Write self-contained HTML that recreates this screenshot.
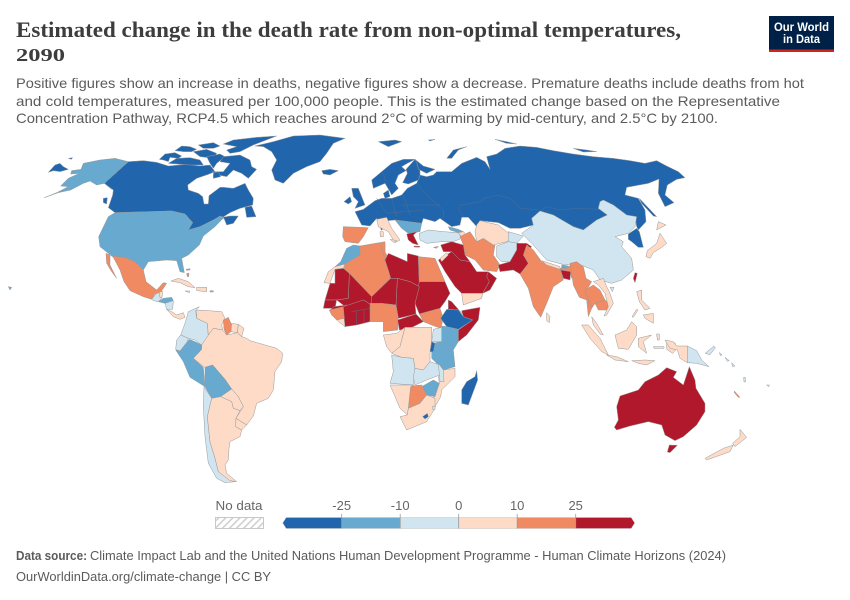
<!DOCTYPE html>
<html lang="en">
<head>
<meta charset="utf-8">
<title>Estimated change in the death rate from non-optimal temperatures, 2090</title>
<style>
html,body{margin:0;padding:0;background:#fff;width:850px;height:600px;overflow:hidden}
svg{display:block;font-family:"Liberation Sans",sans-serif}
#map path{stroke:#999;stroke-width:.5;vector-effect:non-scaling-stroke;stroke-linejoin:round}
#map path.border{fill:none;stroke:#4f6f94;stroke-width:.5}
</style>
</head>
<body>
<svg id="chart" width="850" height="600" viewBox="0 0 850 600" xmlns="http://www.w3.org/2000/svg">
<defs>
<pattern id="hatch" width="5" height="5" patternUnits="userSpaceOnUse" patternTransform="rotate(45)">
<rect width="5" height="5" fill="#fff"/><rect width="1.6" height="5" fill="#d0d0d0"/>
</pattern>
</defs>
<text x="16" y="37" font-family="Liberation Serif" font-weight="700" font-size="22.5" fill="#3d3d3d" textLength="665" lengthAdjust="spacingAndGlyphs">Estimated change in the death rate from non-optimal temperatures,</text>
<text x="16" y="61" font-family="Liberation Serif" font-weight="700" font-size="18" fill="#3d3d3d" textLength="49" lengthAdjust="spacingAndGlyphs">2090</text>
<text x="16" y="88" font-size="14" fill="#5b5b5b" textLength="788" lengthAdjust="spacingAndGlyphs">Positive figures show an increase in deaths, negative figures show a decrease. Premature deaths include deaths from hot</text>
<text x="16" y="106" font-size="14" fill="#5b5b5b" textLength="764" lengthAdjust="spacingAndGlyphs">and cold temperatures, measured per 100,000 people. This is the estimated change based on the Representative</text>
<text x="16" y="123" font-size="14" fill="#5b5b5b" textLength="702" lengthAdjust="spacingAndGlyphs">Concentration Pathway, RCP4.5 which reaches around 2°C of warming by mid-century, and 2.5°C by 2100.</text>

<g>
<rect x="769" y="16" width="65" height="36" fill="#002147"/>
<rect x="769" y="49.5" width="65" height="2.5" fill="#ce261e"/>
<text x="801.5" y="31" text-anchor="middle" font-size="11.5" font-weight="700" fill="#fff" textLength="55" lengthAdjust="spacingAndGlyphs">Our World</text>
<text x="801.5" y="43" text-anchor="middle" font-size="11.5" font-weight="700" fill="#fff" textLength="37" lengthAdjust="spacingAndGlyphs">in Data</text>
</g>

<g id="map">
<g transform="translate(0,130) scale(.33333)">
<path data-country="Greenland" d="M765,48 L820,35 L880,18 L960,15 L1035,25 L1000,40 L980,70 L960,95 L920,110 L880,130 L850,160 L825,150 L815,120 L830,90 L815,65 L790,50 Z"/>
<path data-country="Canada" d="M385,95 L430,92 L470,97 L505,108 L560,103 L600,108 L630,105 L645,125 L625,133 L590,145 L563,165 L565,180 L595,190 L608,200 L612,222 L625,222 L627,197 L660,172 L672,172 L700,175 L735,160 L745,180 L760,205 L758,225 L720,235 L690,248 L668,262 L690,258 L715,258 L700,280 L680,285 L672,265 L640,270 L600,290 L565,300 L578,278 L555,252 L515,243 L345,248 L325,233 L338,195 L340,180 L313,160 Z"/>
<path data-country="Canada" d="M735,232 L755,228 L768,260 L740,262 Z"/>
<path data-country="Canada" d="M478,88 L495,72 L525,68 L545,78 L535,85 L510,82 L505,95 L490,90 Z"/>
<path data-country="Canada" d="M525,62 L545,48 L570,50 L590,58 L575,65 L550,65 Z"/>
<path data-country="Canada" d="M505,100 L530,85 L570,83 L600,90 L610,105 L570,105 Z"/>
<path data-country="Canada" d="M580,65 L620,58 L650,70 L640,85 L600,80 Z"/>
<path data-country="Canada" d="M595,45 L640,38 L660,48 L640,55 L610,55 Z"/>
<path data-country="Canada" d="M620,80 L660,72 L675,80 L650,100 L640,115 L630,100 Z"/>
<path data-country="Canada" d="M635,125 L670,125 L690,100 L660,95 L670,80 L720,75 L750,90 L755,110 L770,118 L745,145 L725,130 L700,120 L680,140 L655,135 Z"/>
<path data-country="Canada" d="M640,130 L655,125 L662,140 L640,145 Z"/>
<path data-country="Canada" d="M670,42 L700,30 L770,22 L830,18 L760,45 L720,65 L690,70 L680,60 L710,50 Z"/>
<path data-country="Canada" d="M310,205 L322,203 L320,222 L310,218 Z"/>
<path data-country="Russia" d="M145,127 L165,105 L180,100 L190,110 L205,118 L180,125 L160,122 Z"/>
<path data-country="Russia" d="M205,85 L218,83 L214,88 Z"/>
<path data-country="United States" d="M385,95 L345,85 L300,90 L250,100 L243,118 L215,122 L212,132 L238,130 L205,145 L182,168 L205,170 L170,188 L133,203 L175,188 L212,180 L250,160 L270,153 L290,165 L313,160 L335,178 L313,160 Z"/>
<path data-country="United States" d="M345,248 L515,243 L555,252 L578,278 L565,300 L600,290 L640,270 L660,258 L672,262 L645,290 L610,318 L598,345 L565,375 L545,385 L553,428 L540,425 L530,392 L500,390 L445,395 L430,420 L405,395 L375,382 L335,378 L300,350 L296,320 L325,260 Z"/>
<path data-country="United States" d="M25,470 L35,472 L30,480 Z"/>
<path data-country="Mexico" d="M335,378 L375,382 L405,395 L430,420 L438,455 L470,480 L490,458 L500,460 L480,490 L465,492 L455,508 L430,500 L390,482 L372,455 L360,420 L340,382 Z"/>
<path data-country="Mexico" d="M318,370 L330,375 L330,405 L350,445 L335,425 L320,400 Z"/>
<path data-country="Guatemala" d="M455,508 L470,490 L480,488 L485,505 L475,515 L460,512 Z"/>
<path data-country="Belize" d="M478,485 L488,485 L486,503 L480,503 Z"/>
<path data-country="Honduras" d="M475,515 L490,505 L515,502 L520,512 L495,520 Z"/>
<path data-country="Nicaragua" d="M495,520 L520,512 L518,538 L500,538 Z"/>
<path data-country="Panama" d="M500,538 L515,545 L530,555 L550,548 L555,562 L540,568 L520,560 Z"/>
<path data-country="Cuba" d="M513,453 L535,445 L565,455 L585,473 L565,470 L540,458 Z"/>
<path data-country="Dominican Republic" d="M590,472 L620,472 L620,485 L590,482 Z"/>
<path data-country="Jamaica" d="M555,483 L570,483 L568,488 Z"/>
<path data-country="Puerto Rico" d="M630,482 L640,482 L640,486 L630,486 Z"/>
<path data-country="Bahamas" d="M558,418 L570,416 L570,420 L560,421 Z"/>
<path data-country="Bahamas" d="M560,430 L567,430 L566,440 L562,440 Z"/>
</g>

<g transform="translate(130,290) scale(.33333)">
<path data-country="Colombia" d="M208,50 L197,62 L200,85 L232,100 L235,140 L215,165 L195,150 L175,145 L152,135 L165,100 L175,65 Z"/>
<path data-country="Ecuador" d="M152,135 L175,145 L172,155 L150,183 L137,178 L140,150 Z"/>
<path data-country="Venezuela" d="M200,60 L235,62 L275,65 L285,85 L275,105 L278,120 L250,115 L235,135 L232,100 L200,85 Z"/>
<path data-country="Brazil" d="M235,135 L250,115 L278,120 L290,135 L322,128 L335,140 L350,145 L360,152 L405,165 L440,175 L458,190 L455,215 L435,245 L430,300 L415,325 L380,340 L370,378 L350,405 L318,385 L340,350 L325,320 L305,297 L285,268 L248,225 L225,232 L215,225 L190,205 L215,178 L215,165 Z"/>
<path data-country="Peru" d="M178,148 L195,155 L215,165 L215,178 L190,205 L220,232 L225,290 L180,262 L160,215 L137,180 L150,183 Z"/>
<path data-country="Bolivia" d="M225,232 L248,225 L285,268 L305,297 L272,320 L245,325 L225,290 Z"/>
<path data-country="Guyana" d="M280,90 L295,82 L305,105 L303,125 L290,135 L282,118 Z"/>
<path data-country="Suriname" d="M305,100 L325,103 L322,128 L303,125 Z"/>
<path data-country="French Guiana" d="M325,103 L342,115 L335,140 L322,128 Z"/>
<path data-country="Paraguay" d="M272,320 L305,297 L325,320 L340,350 L330,362 L310,355 L305,335 Z"/>
<path data-country="Chile" d="M222,290 L245,325 L232,380 L240,455 L255,505 L265,545 L300,560 L315,575 L285,578 L260,565 L235,520 L225,440 L220,350 Z"/>
<path data-country="Argentina" d="M245,325 L272,320 L305,335 L310,355 L330,362 L318,385 L317,410 L335,420 L330,440 L300,455 L297,475 L295,510 L285,525 L290,550 L320,575 L300,572 L265,545 L255,505 L240,455 L232,380 Z"/>
<path data-country="Uruguay" d="M318,385 L350,405 L335,420 L317,410 Z"/>
</g>

<g transform="translate(320,130) scale(.33333)">
<path data-country="Russia" d="M105,245 L130,238 L165,212 L185,205 L215,205 L245,195 L262,175 L290,160 L300,135 L320,140 L340,135 L350,125 L380,125 L395,125 L425,100 L470,82 L495,95 L510,118 L500,80 L530,72 L555,55 L600,48 L650,52 L700,62 L760,72 L820,80 L880,85 L930,92 L975,100 L1010,92 L1040,108 L1075,125 L1095,143 L1070,148 L1042,165 L1035,195 L1062,218 L1035,230 L1015,190 L1017,147 L985,160 L920,172 L915,195 L955,205 L975,240 L978,275 L955,300 L950,290 L945,260 L920,255 L880,225 L840,215 L835,235 L862,255 L830,270 L790,300 L760,290 L700,255 L660,243 L635,265 L640,285 L600,295 L570,295 L535,278 L480,272 L470,290 L445,262 L425,262 L420,285 L395,290 L360,265 L345,275 L310,265 L305,280 L225,270 L175,275 L170,265 L150,288 L125,285 Z"/>
<path data-country="Norway" d="M160,175 L155,150 L185,125 L215,100 L250,88 L285,88 L262,100 L245,110 L258,122 L235,135 L225,160 L235,175 L215,195 L208,182 L195,160 Z"/>
<path data-country="Norway" d="M258,118 L285,88 L300,100 L300,135 L295,150 L265,162 L248,158 L262,130 Z"/>
<path data-country="Russia" d="M285,88 L310,108 L345,118 L320,130 L296,118 L290,95 Z"/>
<path data-country="Norway" d="M190,190 L205,180 L210,200 L195,205 Z"/>
<path data-country="United Kingdom" d="M95,175 L115,175 L125,200 L135,225 L105,235 L115,215 L100,200 Z"/>
<path data-country="Ireland" d="M72,215 L90,200 L95,215 L85,222 Z"/>
<path data-country="Iceland" d="M5,122 L30,118 L55,122 L30,135 L10,132 Z"/>
<path data-country="Norway" d="M175,35 L225,30 L245,35 L205,50 Z"/>
<path data-country="Norway" d="M325,30 L345,28 L330,33 Z"/>
<path data-country="Russia" d="M380,85 L400,60 L440,50 L415,60 L395,85 Z"/>
<path data-country="Russia" d="M525,28 L560,35 L590,42 L560,40 Z"/>
<path data-country="Russia" d="M760,55 L800,60 L830,65 L790,66 Z"/>
<path data-country="Russia" d="M958,205 L1010,260 L1000,258 L965,220 Z"/>
<path data-country="France" d="M182,288 L188,288 L187,300 L183,300 Z"/>
<path class="border" d="M415,235 L420,225 L485,215 L490,205 L535,195 L570,205 L600,235 L655,240"/>
<path class="border" d="M660,243 L680,230 L720,240 L770,235 L835,238"/>
<path class="border" d="M415,235 L430,260"/>
<path class="border" d="M290,160 L325,200 L370,240 L370,265"/>
<path class="border" d="M285,90 L300,135"/>
<path class="border" d="M190,130 L200,165"/>
<path class="border" d="M170,205 L200,250"/>
<path class="border" d="M215,205 L230,260"/>
<path class="border" d="M250,195 L270,255"/>
<path class="border" d="M200,250 L310,240 M245,225 L360,225"/>
<path data-country="Spain" d="M70,290 L145,293 L130,320 L115,340 L75,335 L68,320 Z"/>
<path data-country="Italy" d="M170,268 L200,262 L215,295 L240,330 L225,338 L205,305 L175,290 Z"/>
<path data-country="Italy" d="M210,328 L230,332 L222,338 Z"/>
<path data-country="Italy" d="M180,305 L190,305 L190,320 L181,320 Z"/>
<path data-country="Serbia" d="M225,270 L305,280 L300,305 L265,310 L245,295 Z"/>
<path data-country="Greece" d="M260,312 L292,305 L280,315 L295,345 L278,340 L265,330 Z"/>
<path data-country="Greece" d="M282,348 L300,349 L298,352 L282,351 Z"/>
<path data-country="Turkey" d="M298,310 L325,300 L370,305 L415,308 L425,325 L400,335 L365,335 L320,340 L300,330 Z"/>
<path data-country="Georgia" d="M385,290 L415,298 L430,305 L415,308 L390,300 Z"/>
<path data-country="Azerbaijan" d="M415,308 L430,305 L447,320 L430,325 L425,322 Z"/>
<path data-country="Cyprus" d="M340,352 L355,349 L350,355 Z"/>
<path data-country="China" d="M850,210 L880,225 L920,255 L950,260 L945,290 L925,310 L885,320 L910,335 L905,350 L935,385 L940,420 L905,450 L875,460 L840,450 L820,420 L770,400 L735,405 L680,390 L640,345 L610,315 L605,310 L640,285 L635,265 L660,243 L700,255 L760,290 L790,300 L830,270 L862,255 L835,235 L840,215 Z"/>
<path data-country="Russia" d="M925,312 L950,295 L958,305 L970,352 L955,352 L935,335 L925,328 Z"/>
<path data-country="Iran" d="M420,320 L450,305 L470,335 L490,325 L525,345 L520,375 L540,405 L530,425 L490,420 L465,390 L435,375 L430,345 Z"/>
<path data-country="Uzbekistan" d="M470,285 L480,272 L535,285 L560,305 L585,318 L560,335 L520,345 L490,325 L470,335 L465,305 Z"/>
<path data-country="Tajikistan" d="M565,305 L610,318 L590,340 L565,335 Z"/>
<path data-country="Afghanistan" d="M530,348 L565,335 L595,340 L590,360 L570,395 L545,395 L530,380 Z"/>
<path data-country="Pakistan" d="M590,340 L620,340 L635,350 L610,375 L625,400 L605,435 L580,420 L540,425 L535,405 L570,395 L590,360 Z"/>
<path data-country="India" d="M620,345 L640,360 L665,395 L720,415 L730,450 L700,470 L680,520 L662,562 L640,530 L625,475 L600,432 L625,400 L610,375 Z"/>
<path data-country="India" d="M720,415 L745,410 L760,400 L775,420 L755,445 L750,425 L722,420 Z"/>
<path data-country="Nepal" d="M665,392 L720,410 L720,418 L680,405 Z"/>
<path data-country="Bhutan" d="M725,405 L745,408 L740,415 L725,415 Z"/>
<path data-country="Bangladesh" d="M722,420 L752,425 L750,450 L730,445 Z"/>
<path data-country="Sri Lanka" d="M680,548 L690,560 L688,578 L680,572 Z"/>
<path data-country="Iraq" d="M362,345 L395,335 L430,345 L435,375 L450,395 L420,390 L395,365 L370,365 Z"/>
<path data-country="Saudi Arabia" d="M355,390 L395,365 L420,390 L450,395 L470,425 L505,425 L508,455 L488,490 L425,490 L405,470 L375,425 Z"/>
<path data-country="Oman" d="M505,425 L530,445 L510,480 L488,490 L508,455 L500,440 Z"/>
<path data-country="Yemen" d="M425,490 L488,490 L485,505 L430,525 Z"/>
<path data-country="Jordan" d="M360,385 L380,368 L385,375 L365,395 Z"/>
</g>

<g transform="translate(320,240) scale(.33333)">
<path data-country="Morocco" d="M120,18 L100,15 L80,25 L62,65 L45,80 L75,72 L120,45 Z"/>
<path data-country="Western Sahara" d="M45,80 L75,72 L70,85 L45,88 L30,130 L12,128 L25,95 Z"/>
<path data-country="Algeria" d="M120,18 L178,8 L195,10 L195,60 L208,100 L212,115 L155,170 L90,105 L72,90 L75,72 L120,45 Z"/>
<path data-country="Tunisia" d="M180,8 L195,5 L195,35 L205,55 L195,60 Z"/>
<path data-country="Libya" d="M195,60 L205,40 L240,55 L262,65 L262,40 L295,48 L298,140 L270,125 L232,115 L212,115 L208,100 Z"/>
<path data-country="Egypt" d="M295,50 L345,55 L375,125 L298,125 Z"/>
<path data-country="Sudan" d="M298,125 L375,125 L390,160 L375,185 L360,205 L298,222 L285,190 Z"/>
<path data-country="South Sudan" d="M298,222 L360,205 L370,235 L362,265 L335,255 L310,245 Z"/>
<path data-country="Chad" d="M232,115 L270,125 L298,140 L285,190 L288,222 L235,235 L228,195 Z"/>
<path data-country="Niger" d="M155,170 L212,115 L232,115 L228,195 L185,190 L155,195 Z"/>
<path data-country="Mali" d="M88,100 L155,170 L155,195 L130,180 L95,215 L50,180 L85,175 Z"/>
<path data-country="Mauritania" d="M45,88 L70,85 L88,100 L85,175 L50,180 L15,180 L30,130 L45,130 Z"/>
<path data-country="Senegal" d="M15,180 L50,180 L45,205 L10,205 Z"/>
<path data-country="Guinea" d="M42,200 L80,195 L95,215 L70,215 L28,212 Z"/>
<path data-country="Sierra Leone" d="M28,210 L70,200 L72,235 L50,240 L35,225 Z"/>
<path data-country="Liberia" d="M50,240 L72,235 L75,260 Z"/>
<path data-country="Nigeria" d="M70,200 L130,180 L155,195 L150,245 L110,255 L75,260 Z"/>
<path class="border" d="M108,212 L110,255 M132,210 L132,250 M95,215 L150,205"/>
<path data-country="Cameroon" d="M150,190 L185,190 L228,195 L235,235 L233,270 L190,275 L190,245 L150,245 Z"/>
<path data-country="Central African Republic" d="M233,240 L288,222 L310,245 L270,265 L238,270 Z"/>
<path data-country="Congo" d="M190,285 L230,280 L255,262 L240,320 L215,340 L200,320 Z"/>
<path data-country="Democratic Republic of Congo" d="M255,262 L335,262 L335,300 L330,340 L330,365 L310,390 L285,385 L280,355 L245,352 L215,340 L240,320 Z"/>
<path data-country="Eritrea" d="M385,180 L395,185 L430,225 L415,210 L385,208 Z"/>
<path data-country="Somalia" d="M425,212 L480,202 L475,240 L440,285 L415,305 L415,270 L458,240 L430,230 Z"/>
<path data-country="Ethiopia" d="M380,208 L415,210 L430,230 L458,240 L415,268 L380,260 L362,235 Z"/>
<path data-country="Kenya" d="M365,258 L380,260 L415,268 L415,305 L400,330 L365,305 Z"/>
<path data-country="Uganda" d="M340,268 L365,262 L365,305 L335,305 Z"/>
<path data-country="Tanzania" d="M335,310 L365,305 L400,330 L405,380 L370,390 L335,355 Z"/>
<path data-country="Burundi" d="M335,305 L345,310 L340,335 L330,335 Z"/>
<path data-country="Angola" d="M215,345 L245,352 L280,355 L285,385 L280,435 L210,430 L220,395 Z"/>
<path data-country="Zambia" d="M285,385 L310,390 L330,365 L360,375 L360,405 L320,420 L285,435 L280,410 Z"/>
<path data-country="Mozambique" d="M370,390 L405,385 L405,410 L365,450 L362,470 L345,500 L340,475 L358,430 L355,410 Z"/>
<path data-country="Malawi" d="M355,370 L370,390 L372,425 L360,425 Z"/>
<path data-country="Zimbabwe" d="M305,440 L340,420 L358,430 L345,470 L320,465 Z"/>
<path data-country="Botswana" d="M272,438 L305,435 L320,465 L300,490 L265,505 Z"/>
<path data-country="Namibia" d="M210,435 L280,435 L272,440 L265,505 L262,525 L240,505 Z"/>
<path data-country="South Africa" d="M262,525 L265,505 L300,490 L320,465 L345,475 L345,505 L320,545 L260,570 L240,530 Z"/>
<path data-country="Lesotho" d="M308,530 L322,520 L325,530 L315,537 Z"/>
<path data-country="Eswatini" d="M338,498 L346,500 L344,510 L338,508 Z"/>
<path data-country="Madagascar" d="M470,392 L473,420 L445,495 L425,490 L425,450 L440,425 L465,410 Z"/>
</g>

<g transform="translate(480,210) scale(.33333)">
<path data-country="Myanmar" d="M270,160 L290,155 L310,170 L318,205 L335,215 L325,232 L315,240 L320,255 L335,295 L325,320 L320,270 L298,262 L280,225 L275,190 Z"/>
<path data-country="Thailand" d="M315,240 L340,225 L360,240 L375,270 L345,280 L335,295 L320,255 Z"/>
<path data-country="Cambodia" d="M345,280 L375,270 L388,280 L380,300 L355,300 Z"/>
<path data-country="Vietnam" d="M340,215 L370,205 L380,230 L388,245 L400,280 L380,315 L372,318 L385,290 L375,250 L355,225 Z"/>
<path data-country="China" d="M390,232 L402,232 L397,245 Z"/>
<path data-country="Taiwan" d="M465,188 L472,190 L465,218 L460,205 Z"/>
<path data-country="Malaysia" d="M335,320 L350,340 L370,375 L360,372 L340,345 Z"/>
<path data-country="Indonesia" d="M305,345 L325,345 L360,385 L385,435 L365,425 L330,385 Z"/>
<path data-country="Indonesia" d="M380,435 L410,440 L445,455 L405,450 Z"/>
<path data-country="Indonesia" d="M405,375 L440,360 L455,335 L470,350 L470,375 L445,418 L415,415 Z"/>
<path data-country="Indonesia" d="M475,385 L515,375 L490,395 L500,430 L475,410 Z"/>
<path data-country="Philippines" d="M470,245 L485,240 L485,270 L510,295 L495,300 L478,275 Z"/>
<path data-country="Philippines" d="M490,315 L520,310 L520,340 L495,325 Z"/>
<path data-country="Philippines" d="M470,298 L474,300 L460,322 L456,320 Z"/>
<path data-country="Japan" d="M535,35 L558,45 L530,60 Z"/>
<path data-country="Japan" d="M540,70 L560,100 L545,112 L520,128 L510,145 L498,140 L502,122 L530,100 Z"/>
<path data-country="Indonesia" d="M560,395 L575,405 L585,398 L590,416 L578,430 L560,418 Z" />
</g>

<g transform="translate(590,320) scale(.33333)">
<path data-country="Indonesia" d="M225,60 L250,65 L260,78 L292,78 L292,128 L270,115 L262,90 L240,85 Z"/>
<path data-country="Papua New Guinea" d="M292,78 L320,92 L335,120 L357,140 L320,130 L292,128 Z"/>
<path data-country="Papua New Guinea" d="M345,100 L372,78 L376,84 L360,104 Z"/>
<path data-country="Solomon Islands" d="M388,98 L396,104 L392,108 Z"/>
<path data-country="Solomon Islands" d="M405,112 L418,122 L412,124 Z"/>
<path data-country="Solomon Islands" d="M425,128 L435,138 L428,140 Z"/>
<path data-country="Vanuatu" d="M461,172 L466,172 L466,186 L462,186 Z"/>
<path data-country="Fiji" d="M530,195 L538,195 L536,200 Z"/>
<path data-country="Indonesia" d="M125,122 L165,120 L195,122 L170,135 L145,130 Z"/>
<path data-country="Indonesia" d="M200,42 L208,42 L208,60 L202,60 Z"/>
<path data-country="Indonesia" d="M190,80 L222,80 L222,85 L192,85 Z"/>
<path data-country="New Caledonia" d="M433,213 L450,232 L445,232 L433,218 Z"/>
<path data-country="Australia" d="M73,322 L85,300 L80,260 L90,228 L145,210 L165,185 L205,165 L230,143 L260,155 L250,172 L280,195 L298,140 L315,180 L318,205 L345,250 L345,275 L320,315 L280,350 L255,362 L225,345 L215,315 L175,305 L120,318 L80,330 Z"/>
<path data-country="Australia" d="M238,375 L262,376 L240,398 L232,396 Z"/>
<path data-country="New Zealand" d="M450,328 L470,352 L435,380 L428,370 L450,350 Z"/>
<path data-country="New Zealand" d="M430,375 L420,395 L350,420 L345,415 L400,385 Z"/>
</g>
</g>

<g id="legend">
<text x="239" y="510" text-anchor="middle" font-size="13" fill="#666" textLength="47" lengthAdjust="spacingAndGlyphs">No data</text>
<rect x="215.5" y="517.5" width="48" height="11" fill="url(#hatch)" stroke="#c8c8c8" stroke-width="1"/>
</g>

<text x="16" y="560" font-size="13" font-weight="700" fill="#5b5b5b" textLength="71" lengthAdjust="spacingAndGlyphs">Data source:</text>
<text x="90" y="560" font-size="13" fill="#5b5b5b" textLength="636" lengthAdjust="spacingAndGlyphs">Climate Impact Lab and the United Nations Human Development Programme - Human Climate Horizons (2024)</text>
<text x="16" y="581" font-size="13" fill="#5b5b5b" textLength="255" lengthAdjust="spacingAndGlyphs">OurWorldinData.org/climate-change | CC BY</text>
</svg>

<script>
const binEdges = [-25, -10, 0, 10, 25];
const binColors = ['#2166ac', '#67a9cf', '#d1e5f0', '#fddbc7', '#ef8a62', '#b2182b'];
const tickLabels = ['-25', '-10', '0', '10', '25'];
const countryNames = ['Greenland','Canada','Russia','United States','Mexico','Guatemala','Belize','Honduras','Nicaragua','Panama','Cuba','Dominican Republic','Jamaica','Puerto Rico','Bahamas','Colombia','Ecuador','Venezuela','Brazil','Peru','Bolivia','Guyana','Suriname','French Guiana','Paraguay','Chile','Argentina','Uruguay','Norway','United Kingdom','Ireland','Iceland','France','Spain','Italy','Serbia','Greece','Turkey','Georgia','Azerbaijan','Cyprus','China','Iran','Uzbekistan','Tajikistan','Afghanistan','Pakistan','India','Nepal','Bhutan','Bangladesh','Sri Lanka','Iraq','Saudi Arabia','Oman','Yemen','Jordan','Morocco','Western Sahara','Algeria','Tunisia','Libya','Egypt','Sudan','South Sudan','Chad','Niger','Mali','Mauritania','Senegal','Guinea','Sierra Leone','Liberia','Nigeria','Cameroon','Central African Republic','Congo','Democratic Republic of Congo','Eritrea','Somalia','Ethiopia','Kenya','Uganda','Tanzania','Burundi','Angola','Zambia','Mozambique','Malawi','Zimbabwe','Botswana','Namibia','South Africa','Lesotho','Eswatini','Madagascar','Myanmar','Thailand','Cambodia','Vietnam','Taiwan','Malaysia','Indonesia','Philippines','Japan','Papua New Guinea','Solomon Islands','Vanuatu','Fiji','New Caledonia','Australia','New Zealand'];
const countryValues = [-60,-40,-70,-18,15,-4,5,-14,-3,6,4,5,5,14,14,-5,-6,4,6,-15,-16,16,5,4,6,-4,5,6,-45,-35,-35,-40,-30,16,6,-15,30,-6,-14,5,14,-6,18,6,-5,-5,45,18,6,-15,40,5,40,45,40,6,7,-16,6,18,18,40,18,60,18,40,60,60,50,40,50,15,6,45,17,40,6,5,40,40,-30,-15,-5,-15,-30,-5,-5,5,-5,-15,18,5,6,-30,-5,-30,18,18,18,6,40,6,6,6,6,-5,-5,-5,-5,15,40,6];

function binColor(value) {
  let i = 0;
  while (i < binEdges.length && value >= binEdges[i]) i++;
  return binColors[i];
}
function legendX(tickIndex) {
  return 341.7 + tickIndex * 58.5;
}

document.querySelectorAll('#map path[data-country]').forEach(function (p) {
  const i = countryNames.indexOf(p.getAttribute('data-country'));
  p.setAttribute('fill', i >= 0 ? binColor(countryValues[i]) : '#ddd');
});

const svgNS = 'http://www.w3.org/2000/svg';
const legend = document.getElementById('legend');
const barTop = 517.5, barBottom = 528.5, mid = (barTop + barBottom) / 2;
const endLength = 55.5, arrowLength = 3.5;
binColors.forEach(function (color, i) {
  const left = i === 0 ? legendX(0) - endLength : legendX(i - 1);
  const right = i === binColors.length - 1 ? legendX(binEdges.length - 1) + endLength : legendX(i);
  const seg = document.createElementNS(svgNS, 'path');
  let d;
  if (i === 0) d = 'M' + left + ' ' + barTop + 'H' + right + 'V' + barBottom + 'H' + left + 'L' + (left - arrowLength) + ' ' + mid + 'Z';
  else if (i === binColors.length - 1) d = 'M' + left + ' ' + barTop + 'H' + right + 'L' + (right + arrowLength) + ' ' + mid + 'L' + right + ' ' + barBottom + 'H' + left + 'Z';
  else d = 'M' + left + ' ' + barTop + 'H' + right + 'V' + barBottom + 'H' + left + 'Z';
  seg.setAttribute('d', d);
  seg.setAttribute('fill', color);
  seg.setAttribute('stroke', '#c4c4c4');
  seg.setAttribute('stroke-width', '.5');
  
  
  legend.appendChild(seg);
});
tickLabels.forEach(function (label, i) {
  const x = legendX(i);
  const tick = document.createElementNS(svgNS, 'line');
  tick.setAttribute('x1', x);
  tick.setAttribute('x2', x);
  tick.setAttribute('y1', 514);
  tick.setAttribute('y2', barBottom);
  tick.setAttribute('stroke', '#999');
  tick.setAttribute('stroke-width', '.8');
  
  
  legend.appendChild(tick);
  const text = document.createElementNS(svgNS, 'text');
  text.setAttribute('x', x);
  text.setAttribute('y', 510);
  text.setAttribute('text-anchor', 'middle');
  text.setAttribute('font-size', '13');
  text.setAttribute('fill', '#666');
  
  
  text.textContent = label;
  legend.appendChild(text);
});
</script>
</body>
</html>
